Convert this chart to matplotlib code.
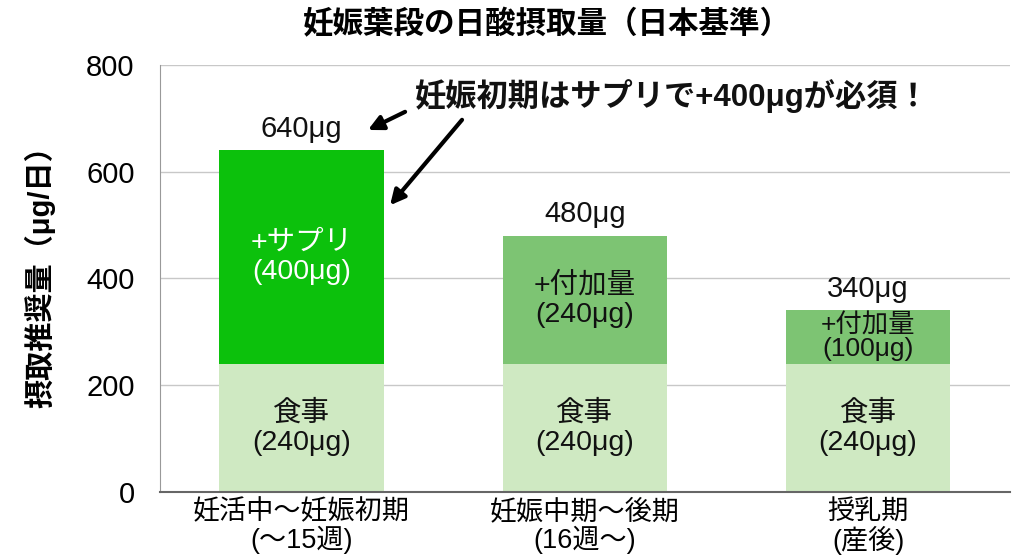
import matplotlib
matplotlib.use("Agg")
import matplotlib.pyplot as plt

plt.rcParams['font.family'] = ['Liberation Sans', 'Noto Sans CJK JP', 'DejaVu Sans']

categories = ["妊活中～妊娠初期\n(～15週)", "妊娠中期～後期\n(16週～)", "授乳期\n(産後)"]
base_values = [240, 240, 240]
extra_values = [400, 240, 100]
base_labels = ["食事\n(240μg)", "食事\n(240μg)", "食事\n(240μg)"]
extra_labels = ["+サプリ\n(400μg)", "+付加量\n(240μg)", "+付加量\n(100μg)"]
total_labels = ["640μg", "480μg", "340μg"]
yticks = [0, 200, 400, 600, 800]

base_color = "#cfe9c2"
extra_colors = ["#0cc10c", "#7dc473", "#7dc473"]
extra_text_colors = ["white", "#111111", "#111111"]
extra_font = [20.5, 20.5, 19]
extra_spacing = [1.15, 1.15, 1.0]

fig = plt.figure(figsize=(10.24, 5.59), dpi=100)
ax = fig.add_axes([0.156, 0.120, 0.830, 0.764])

x = list(range(len(categories)))
w = 0.58
ax.bar(x, base_values, width=w, color=base_color, zorder=2)
ax.bar(x, extra_values, width=w, bottom=base_values, color=extra_colors, zorder=2)

for i in x:
    ax.text(i, base_values[i] / 2, base_labels[i], ha='center', va='center',
            fontsize=20.5, color="#111111", linespacing=1.15, zorder=3)
    ax.text(i, base_values[i] + extra_values[i] / 2, extra_labels[i], ha='center', va='center',
            fontsize=extra_font[i], color=extra_text_colors[i], linespacing=extra_spacing[i], zorder=3)
    ax.text(i, base_values[i] + extra_values[i] + 14, total_labels[i], ha='center', va='bottom',
            fontsize=21, color="#111111", zorder=3)

ax.set_xlim(-0.5, 2.5)
ax.set_ylim(0, 800)
ax.set_yticks(yticks)
ax.set_yticklabels([str(t) for t in yticks], fontsize=21)
ax.set_xticks(x)
ax.set_xticklabels(categories, fontsize=19.5, linespacing=1.05)
ax.tick_params(axis='y', length=0, pad=18)
ax.tick_params(axis='x', length=0, pad=5)
ax.yaxis.grid(True, color="#c8c8c8", linewidth=1.0, zorder=0)
ax.set_axisbelow(True)
for s in ['top', 'right']:
    ax.spines[s].set_visible(False)
ax.spines['left'].set_color("#999999")
ax.spines['bottom'].set_color("#666666")
ax.spines['bottom'].set_linewidth(1.5)

ax.set_ylabel("摂取推奨量（μg/日）", fontsize=21, fontweight='bold')
ax.yaxis.set_label_coords(-0.123, 0.52)

fig.text(0.534, 0.955, "妊娠葉段の日酸摂取量（日本基準）", ha='center', va='center',
         fontsize=22, fontweight='bold')

ax.text(1.31, 741, "妊娠初期はサプリで+400μgが必須！", ha='center', va='center',
        fontsize=22.5, fontweight='bold', color="#111111")
arrow_kw = dict(arrowstyle='-|>', color='black', lw=3, mutation_scale=22, shrinkA=0, shrinkB=0)
ax.annotate("", xy=(0.235, 678), xytext=(0.366, 712), arrowprops=arrow_kw)
ax.annotate("", xy=(0.313, 537), xytext=(0.567, 697), arrowprops=arrow_kw)

fig.savefig("out.png", dpi=100, facecolor='white')
